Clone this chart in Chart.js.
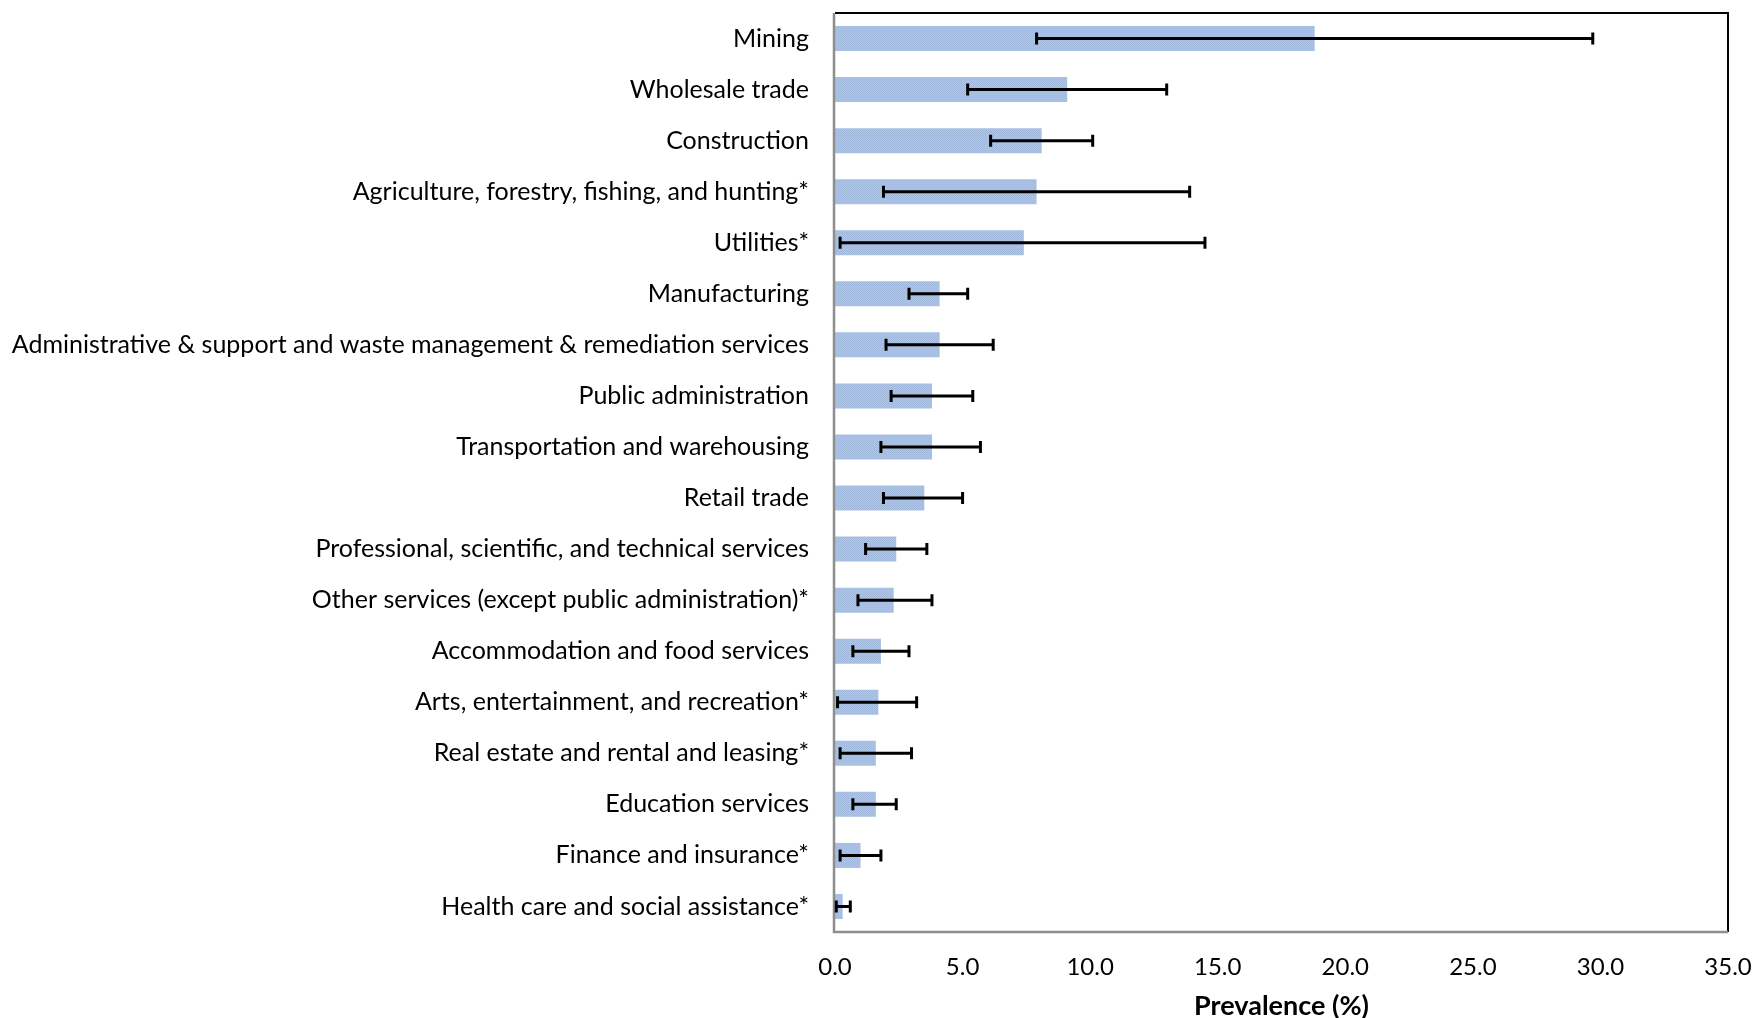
<!DOCTYPE html>
<html>
<head>
<meta charset="utf-8">
<script src="https://cdn.jsdelivr.net/npm/chart.js@4/dist/chart.umd.min.js"></script>
<style>
  html, body { margin: 0; padding: 0; background: #fff; }
  #wrap { width: 1756px; height: 1018px; }
</style>
</head>
<body>
<div id="wrap"><canvas id="chart" width="1756" height="1018"></canvas></div>
<script>
// industries, top to bottom
const industries = [
  'Mining',
  'Wholesale trade',
  'Construction',
  'Agriculture, forestry, fishing, and hunting*',
  'Utilities*',
  'Manufacturing',
  'Administrative & support and waste management & remediation services',
  'Public administration',
  'Transportation and warehousing',
  'Retail trade',
  'Professional, scientific, and technical services',
  'Other services (except public administration)*',
  'Accommodation and food services',
  'Arts, entertainment, and recreation*',
  'Real estate and rental and leasing*',
  'Education services',
  'Finance and insurance*',
  'Health care and social assistance*'
];
// prevalence (%)
const prevalence = [18.8, 9.1, 8.1, 7.9, 7.4, 4.1, 4.1, 3.8, 3.8, 3.5, 2.4, 2.3, 1.8, 1.7, 1.6, 1.6, 1.0, 0.3];
// 95% CI bounds
const ciLower = [7.9, 5.2, 6.1, 1.9, 0.2, 2.9, 2.0, 2.2, 1.8, 1.9, 1.2, 0.9, 0.7, 0.1, 0.2, 0.7, 0.2, 0.05];
const ciUpper = [29.7, 13.0, 10.1, 13.9, 14.5, 5.2, 6.2, 5.4, 5.7, 5.0, 3.6, 3.8, 2.9, 3.2, 3.0, 2.4, 1.8, 0.6];
const xTicks = [0, 5, 10, 15, 20, 25, 30, 35];

const FONT = "Lato, 'Open Sans', sans-serif";

// fine dotted fill like the original
function barPattern() {
  const c = document.createElement('canvas');
  c.width = 2; c.height = 2;
  const g = c.getContext('2d');
  g.fillStyle = '#AFC5E5';
  g.fillRect(0, 0, 2, 2);
  g.fillStyle = '#A0B9DC';
  g.fillRect(0, 0, 1, 1);
  g.fillRect(1, 1, 1, 1);
  return g.createPattern(c, 'repeat');
}

// frame + error bars
const overlay = {
  id: 'overlay',
  afterDatasetsDraw(chart) {
    const { ctx, chartArea: a, scales } = chart;
    ctx.save();
    ctx.lineWidth = 2;
    ctx.strokeStyle = '#000';
    ctx.beginPath();
    ctx.moveTo(a.left, a.top);
    ctx.lineTo(a.right, a.top);
    ctx.lineTo(a.right, a.bottom);
    ctx.stroke();
    ctx.strokeStyle = '#8E8E8E';
    ctx.lineWidth = 2.5;
    ctx.beginPath();
    ctx.moveTo(a.left - 1, a.top);
    ctx.lineTo(a.left - 1, a.bottom);
    ctx.lineTo(a.right, a.bottom);
    ctx.stroke();

    const meta = chart.getDatasetMeta(0);
    ctx.strokeStyle = '#000';
    ctx.lineWidth = 3;
    meta.data.forEach((bar, i) => {
      const y = bar.y;
      const x1 = scales.x.getPixelForValue(ciLower[i]);
      const x2 = scales.x.getPixelForValue(ciUpper[i]);
      ctx.beginPath();
      ctx.moveTo(x1, y); ctx.lineTo(x2, y);
      ctx.moveTo(x1, y - 6); ctx.lineTo(x1, y + 6);
      ctx.moveTo(x2, y - 6); ctx.lineTo(x2, y + 6);
      ctx.stroke();
    });
    ctx.restore();
  }
};

new Chart(document.getElementById('chart'), {
  type: 'bar',
  data: {
    labels: industries,
    datasets: [{
      data: prevalence,
      backgroundColor: barPattern(),
      borderWidth: 0,
      categoryPercentage: 1,
      barPercentage: 0.49
    }]
  },
  options: {
    indexAxis: 'y',
    responsive: false,
    animation: false,
    layout: { padding: { top: 13, right: 28, bottom: 0, left: 0 } },
    plugins: { legend: { display: false }, tooltip: { enabled: false } },
    scales: {
      x: {
        min: 0,
        max: 35,
        afterBuildTicks: s => { s.ticks = xTicks.map(v => ({ value: v })); },
        afterFit: s => { s.height = 86; s.paddingLeft = 0; s.paddingRight = 0; },
        grid: { display: false, drawTicks: false },
        border: { display: false },
        ticks: {
          padding: 21,
          color: '#000',
          font: { family: FONT, size: 24 },
          callback: v => Number(v).toFixed(1)
        },
        title: {
          display: true,
          text: 'Prevalence (%)',
          color: '#000',
          font: { family: FONT, size: 27, weight: 'bold', lineHeight: 1.0 },
          padding: { top: 0, bottom: -2 }
        }
      },
      y: {
        afterFit: s => { s.width = 835; s.paddingTop = 0; s.paddingBottom = 0; },
        grid: { display: false, drawTicks: false },
        border: { display: false },
        ticks: {
          padding: 26,
          color: '#000',
          autoSkip: false,
          font: { family: FONT, size: 25 }
        }
      }
    }
  },
  plugins: [overlay]
});
</script>
</body>
</html>
